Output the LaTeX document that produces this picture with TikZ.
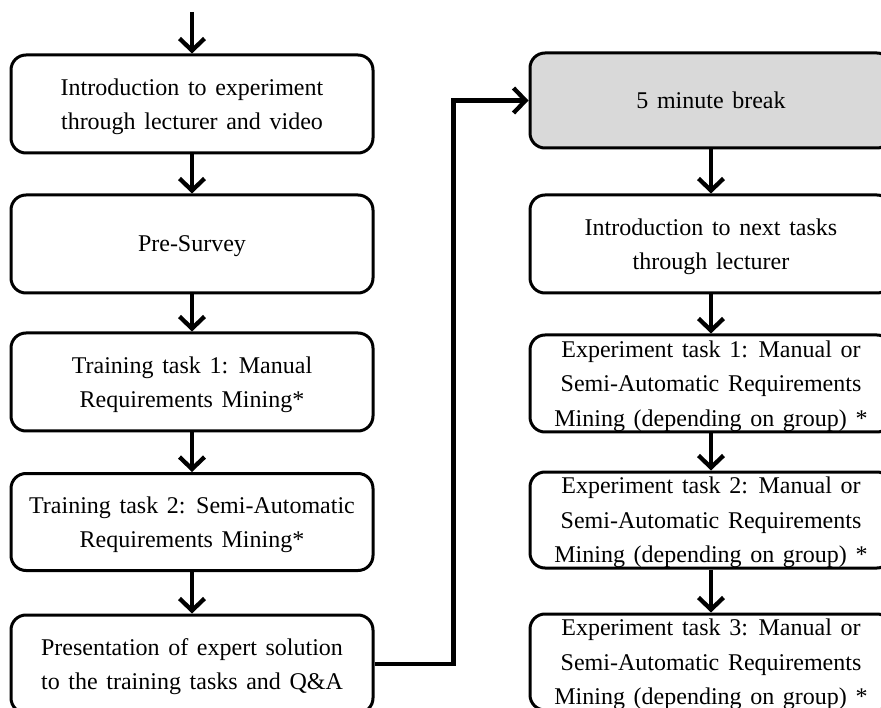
\documentclass[tikz,border=0pt]{standalone}
\usepackage{fontspec}
\setmainfont{Liberation Serif}
\usetikzlibrary{arrows.meta}

\newcommand{\stepfont}{\fontsize{24}{34.5}\selectfont\spaceskip=0.36em\relax}

\tikzset{
  stepbox/.style={draw=black, line width=3pt, rounded corners=15pt, fill=white,
    minimum width=362pt, align=center, inner sep=0pt, font=\stepfont,
    text depth=0pt},
  taskbox/.style={stepbox, text depth=-5pt},
  breakbox/.style={stepbox, fill=black!15},
  flow/.style={line width=4.3pt, -{Straight Barb[length=12pt,width=25pt,line width=4.3pt]}},
}

\begin{document}
\begin{tikzpicture}[x=1pt,y=-1pt]
  \clip (0,0) rectangle (881,708);
  \fill[white] (0,0) rectangle (881,708);

  % left column: introduction and training
  \coordinate (start) at (192,12);
  \node[stepbox, minimum height=98pt] (intro) at (192,104)
    {Introduction to experiment\\through lecturer and video};
  \node[stepbox, minimum height=98pt] (presurvey) at (192,244) {Pre-Survey};
  \node[stepbox, minimum height=98pt] (train1) at (192,382)
    {Training task 1: Manual\\Requirements Mining*};
  \node[stepbox, minimum height=97pt] (train2) at (192,522)
    {Training task 2: Semi-Automatic\\Requirements Mining*};
  \node[stepbox, minimum height=98pt] (expert) at (192,664)
    {Presentation of expert solution\\to the training tasks and Q\&A};

  % right column: break and experiment tasks
  \node[breakbox, minimum height=95pt] (break) at (711,100.5) {5 minute break};
  \node[stepbox, minimum height=98pt] (introNext) at (711,244)
    {Introduction to next tasks\\through lecturer};
  \node[taskbox, minimum height=97pt] (exp1) at (711,383.5)
    {Experiment task 1: Manual or\\Semi-Automatic Requirements\\Mining (depending on group) *};
  \node[taskbox, minimum height=96pt] (exp2) at (711,520)
    {Experiment task 2: Manual or\\Semi-Automatic Requirements\\Mining (depending on group) *};
  \node[taskbox, minimum height=96pt] (exp3) at (711,662)
    {Experiment task 3: Manual or\\Semi-Automatic Requirements\\Mining (depending on group) *};

  % connectors
  \draw[flow] (start) -- (intro);
  \draw[flow] (intro) -- (presurvey);
  \draw[flow] (presurvey) -- (train1);
  \draw[flow] (train1) -- (train2);
  \draw[flow] (train2) -- (expert);
  \draw[flow, rounded corners=0pt] (expert.east) -- ++(79,0) |- (break.west);
  \draw[flow] (break) -- (introNext);
  \draw[flow] (introNext) -- (exp1);
  \draw[flow] (exp1) -- (exp2);
  \draw[flow] (exp2) -- (exp3);
\end{tikzpicture}
\end{document}
